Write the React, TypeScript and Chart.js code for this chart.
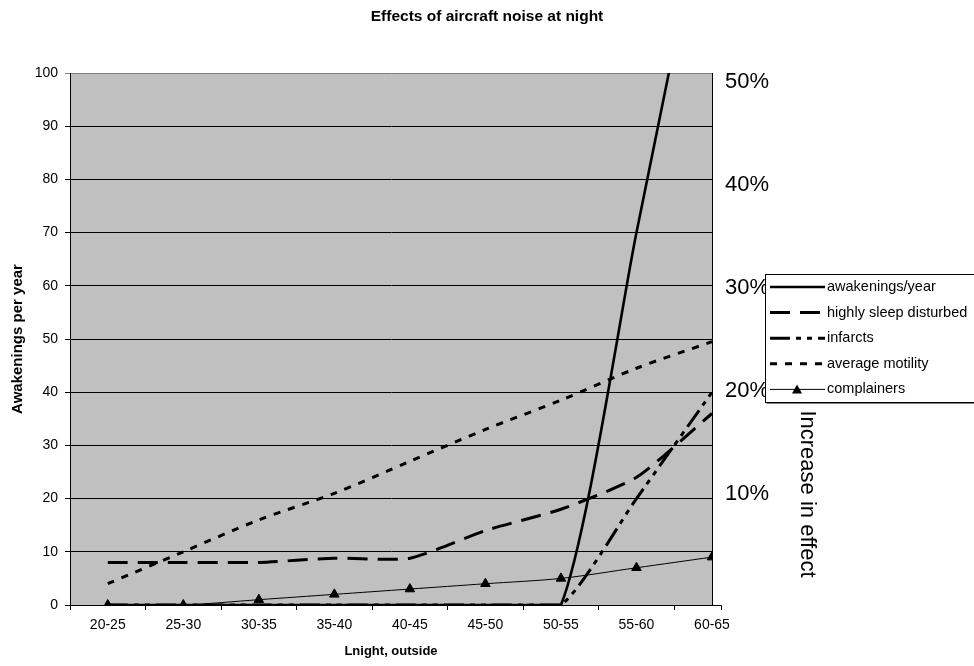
import { useEffect, useRef } from 'react';
import { Chart, registerables } from 'chart.js';

Chart.register(...registerables);

// Noise classes on the x axis (Lnight, outside, dB)
const categories = ['20-25', '25-30', '30-35', '35-40', '40-45', '45-50', '50-55', '55-60', '60-65'];

// Series values per noise class
const awakenings = [0, 0, 0, 0, 0, 0, 0, 70, 140];
const highlySleepDisturbed = [8, 8, 8, 8.8, 8.8, 14, 18, 24, 36];
const infarcts = [0, 0, 0, 0, 0, 0, 0, 20, 40];
const averageMotility = [4, 10, 16, 21, 27, 33, 38.5, 44.5, 49.5];
const complainers = [0, 0, 1, 2, 3, 4, 5, 7, 9];

// Secondary axis labels (percent increase in effect)
const rightTicks = [10, 20, 30, 40, 50];

const FONT = 'Arial, "Liberation Sans", sans-serif';

const toPoints = (values: number[]) => values.map((y, i) => ({ x: i, y }));

// Grey plot area behind the grid
const plotBackground = {
  id: 'plotBackground',
  beforeDraw(chart: any) {
    const { ctx, chartArea: a } = chart;
    ctx.save();
    ctx.fillStyle = '#c0c0c0';
    ctx.fillRect(a.left, a.top, a.right - a.left + 1, a.bottom - a.top);
    ctx.restore();
  },
};

// Boxed legend to the right of the plot, plus the right axis title
const sideDecor = {
  id: 'sideDecor',
  afterDraw(chart: any) {
    const { ctx, chartArea: a } = chart;
    ctx.save();

    // x axis line runs a little past the plot edge
    ctx.strokeStyle = '#000';
    ctx.lineWidth = 1;
    ctx.beginPath();
    ctx.moveTo(a.right, a.bottom + 0.5);
    ctx.lineTo(a.right + 9.5, a.bottom + 0.5);
    ctx.lineTo(a.right + 9.5, a.bottom + 5);
    ctx.stroke();

    // right axis title
    ctx.fillStyle = '#000';
    ctx.font = `22px ${FONT}`;
    ctx.textAlign = 'center';
    ctx.textBaseline = 'alphabetic';
    ctx.translate(801, 494);
    ctx.rotate(Math.PI / 2);
    ctx.fillText('Increase in effect', 0, 0);
    ctx.setTransform(1, 0, 0, 1, 0, 0);

    // legend box
    const x0 = 765.5;
    const y0 = 274.5;
    const y1 = 402.5;
    ctx.fillStyle = '#ffffff';
    ctx.fillRect(x0, y0, 230, y1 - y0);
    ctx.strokeStyle = '#000';
    ctx.lineWidth = 1;
    ctx.strokeRect(x0, y0, 230, y1 - y0);
    ctx.strokeStyle = '#808080';
    ctx.beginPath();
    ctx.moveTo(x0 + 1, y1 + 1);
    ctx.lineTo(x0 + 230, y1 + 1);
    ctx.stroke();

    ctx.font = `14.5px ${FONT}`;
    ctx.textAlign = 'left';
    ctx.textBaseline = 'middle';
    chart.data.datasets.forEach((ds: any, i: number) => {
      const y = 287 + i * 25.6;
      ctx.strokeStyle = '#000';
      ctx.lineWidth = ds.borderWidth;
      ctx.setLineDash(ds.borderDash || []);
      ctx.beginPath();
      ctx.moveTo(770, y);
      ctx.lineTo(825, y);
      ctx.stroke();
      ctx.setLineDash([]);
      if (ds.pointRadius > 0) {
        ctx.fillStyle = '#000';
        ctx.beginPath();
        ctx.moveTo(797, y - 5);
        ctx.lineTo(802, y + 4);
        ctx.lineTo(792, y + 4);
        ctx.closePath();
        ctx.fill();
      }
      ctx.fillStyle = '#000';
      ctx.fillText(ds.label, 827, y);
    });
    ctx.restore();
  },
};

export default function App() {
  const canvasRef = useRef<HTMLCanvasElement | null>(null);

  useEffect(() => {
    if (!canvasRef.current) return;
    Chart.defaults.font.family = FONT;
    Chart.defaults.color = '#000';

    const lineBase = {
      borderColor: '#000',
      backgroundColor: '#000',
      pointRadius: 0,
      fill: false,
      tension: 0.3,
      borderJoinStyle: 'round' as const,
    };

    const chart = new Chart(canvasRef.current, {
      type: 'line',
      data: {
        datasets: [
          { ...lineBase, label: 'awakenings/year', data: toPoints(awakenings), borderWidth: 2.6, tension: 0.2 },
          { ...lineBase, label: 'highly sleep disturbed', data: toPoints(highlySleepDisturbed), borderWidth: 3, borderDash: [20, 10], tension: 0.2 },
          { ...lineBase, label: 'infarcts', data: toPoints(infarcts), borderWidth: 3, borderDash: [20, 6, 5, 6, 5, 6], tension: 0.2 },
          { ...lineBase, label: 'average motility', data: toPoints(averageMotility), borderWidth: 3, borderDash: [7, 8] },
          {
            ...lineBase,
            label: 'complainers',
            data: toPoints(complainers),
            borderWidth: 1,
            pointRadius: 5.5,
            pointStyle: 'triangle',
            pointBackgroundColor: '#000',
            pointBorderColor: '#000',
          },
        ],
      },
      options: {
        responsive: false,
        animation: false,
        layout: { padding: 0 },
        plugins: {
          legend: { display: false },
          tooltip: { enabled: false },
          title: {
            display: true,
            text: 'Effects of aircraft noise at night',
            font: { size: 15.5, weight: 'bold' },
            color: '#000',
            padding: { top: 7, bottom: 47.4 },
          },
        },
        scales: {
          x: {
            type: 'linear',
            min: -0.5,
            max: 8,
            afterBuildTicks: (s: any) => {
              s.ticks = categories.map((_, i) => ({ value: i - 0.5 }));
            },
            ticks: {
              callback: (_v: any, i: number) => categories[i],
              labelOffset: 37.76,
              padding: 7,
              autoSkip: false,
              maxRotation: 0,
              font: { size: 14 },
            },
            grid: { drawOnChartArea: false, color: '#000', tickLength: 5 },
            border: { color: '#000' },
            title: {
              display: true,
              text: 'Lnight, outside',
              font: { size: 13, weight: 'bold' },
              padding: { top: 0, bottom: 7.2 },
            },
            afterFit: (s: any) => {
              s.height = 61;
            },
          },
          y: {
            min: 0,
            max: 100,
            ticks: { stepSize: 10, padding: 7, font: { size: 14 } },
            grid: {
              color: (c: any) => (c.tick && c.tick.value === 100 ? '#808080' : '#000'),
              tickLength: 5,
            },
            border: { color: '#000' },
            title: {
              display: true,
              text: 'Awakenings per year',
              font: { size: 15, weight: 'bold' },
              padding: { top: 9, bottom: 0 },
            },
            afterFit: (s: any) => {
              s.width = 70;
            },
          },
          y2: {
            position: 'right',
            min: -0.8,
            max: 50.9,
            afterBuildTicks: (s: any) => {
              s.ticks = rightTicks.map((v) => ({ value: v }));
            },
            ticks: {
              callback: (v: any) => `${v}%`,
              padding: 13,
              font: { size: 22 },
            },
            grid: { drawOnChartArea: false, drawTicks: false },
            border: { color: '#000' },
            afterFit: (s: any) => {
              s.width = 262;
            },
          },
        },
      },
      plugins: [plotBackground, sideDecor],
    });

    return () => chart.destroy();
  }, []);

  return (
    <div style={{ position: 'absolute', left: 0, top: 0, width: 974, height: 666, background: '#fff' }}>
      <canvas ref={canvasRef} width={974} height={666} style={{ display: 'block' }} />
    </div>
  );
}
